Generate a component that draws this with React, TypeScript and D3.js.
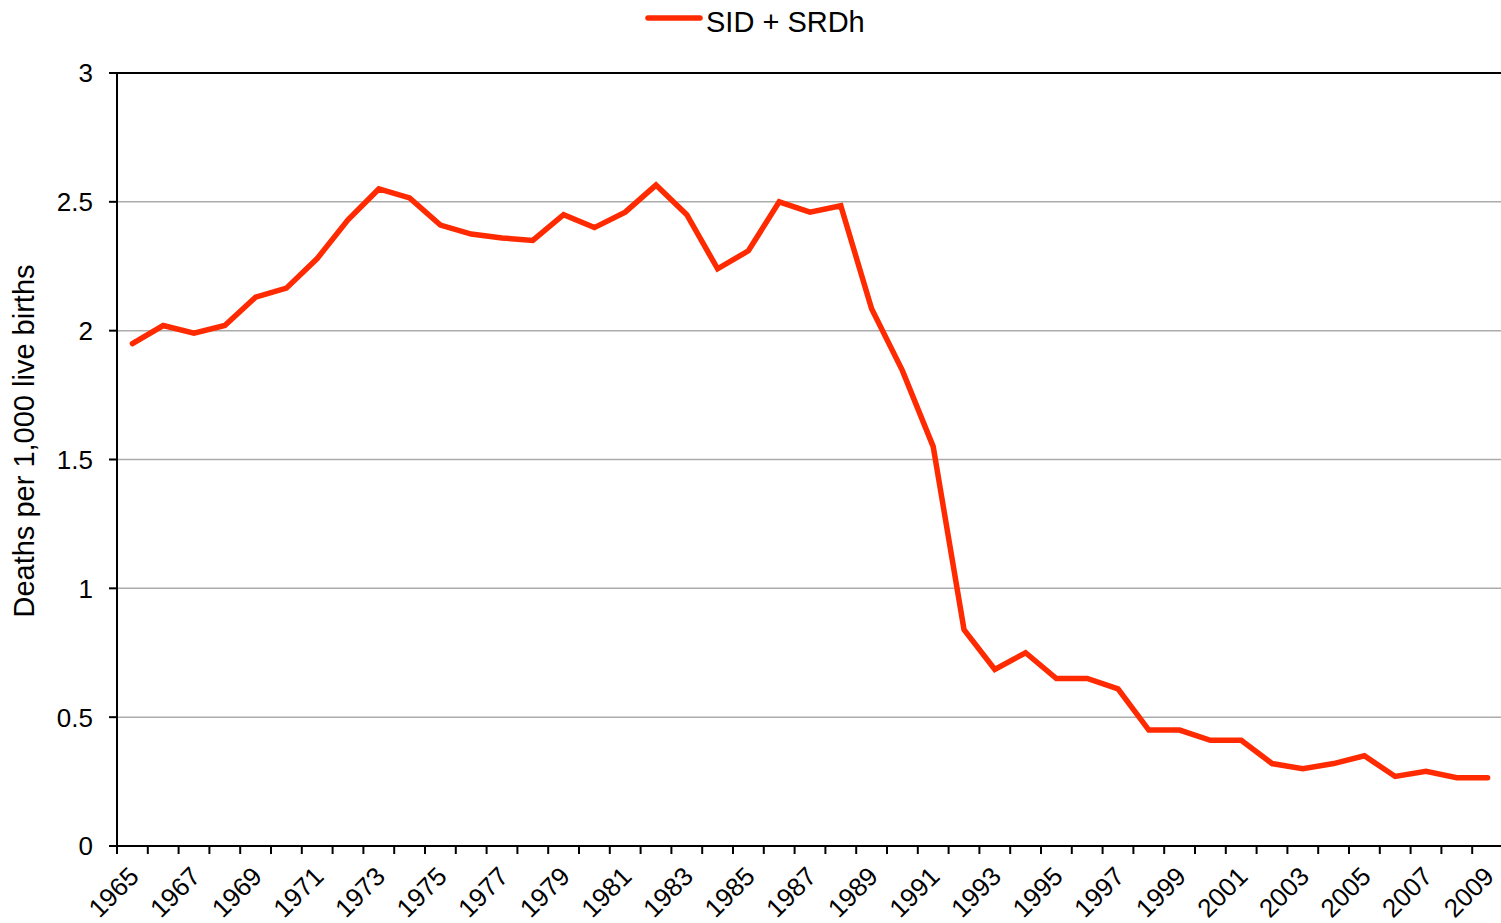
import React, { useEffect, useRef } from 'react';
import * as d3 from 'd3';

const years: number[] = [
  1965, 1966, 1967, 1968, 1969, 1970, 1971, 1972, 1973, 1974,
  1975, 1976, 1977, 1978, 1979, 1980, 1981, 1982, 1983, 1984,
  1985, 1986, 1987, 1988, 1989, 1990, 1991, 1992, 1993, 1994,
  1995, 1996, 1997, 1998, 1999, 2000, 2001, 2002, 2003, 2004,
  2005, 2006, 2007, 2008, 2009,
];

const deathRates: number[] = [
  1.95, 2.02, 1.99, 2.02, 2.13, 2.165, 2.28, 2.43, 2.55, 2.515,
  2.41, 2.375, 2.36, 2.35, 2.45, 2.4, 2.46, 2.565, 2.45, 2.24,
  2.31, 2.5, 2.46, 2.485, 2.085, 1.845, 1.55, 0.84, 0.685, 0.75,
  0.65, 0.65, 0.61, 0.45, 0.45, 0.41, 0.41, 0.32, 0.3, 0.32,
  0.35, 0.27, 0.29, 0.265, 0.265,
];

const yTicks: number[] = [0, 0.5, 1, 1.5, 2, 2.5, 3];
const seriesName = 'SID + SRDh';
const yTitle = 'Deaths per 1,000 live births';

function App() {
  const svgRef = useRef<SVGSVGElement>(null);

  useEffect(() => {
    const svg = d3.select(svgRef.current);
    svg.selectAll('*').remove();

    const width = 1501;
    const height = 923;
    const margin = { top: 73, right: -2, bottom: 77, left: 117 };
    const font = 'Liberation Sans, Arial, Helvetica, sans-serif';
    const red = '#ff2a00';

    const innerWidth = width - margin.left - margin.right;
    const innerHeight = height - margin.top - margin.bottom;

    const g = svg.append('g').attr('transform', `translate(${margin.left},${margin.top})`);

    const x = d3.scaleBand<number>().domain(years).range([0, innerWidth]).padding(0);
    const y = d3.scaleLinear().domain([0, 3]).range([innerHeight, 0]);
    const cx = (d: number) => (x(d) as number) + x.bandwidth() / 2;

    // grid lines
    g.selectAll('.grid')
      .data(yTicks.filter(t => t > 0 && t < 3))
      .enter()
      .append('line')
      .attr('x1', 0)
      .attr('x2', innerWidth)
      .attr('y1', d => y(d))
      .attr('y2', d => y(d))
      .attr('stroke', '#ababab')
      .attr('stroke-width', 1.5);

    // frame
    g.append('rect')
      .attr('x', 0)
      .attr('y', 0)
      .attr('width', innerWidth)
      .attr('height', innerHeight)
      .attr('fill', 'none')
      .attr('stroke', '#000')
      .attr('stroke-width', 2);

    // y ticks + labels
    g.selectAll('.ytick')
      .data(yTicks)
      .enter()
      .append('line')
      .attr('x1', -8)
      .attr('x2', 0)
      .attr('y1', d => y(d))
      .attr('y2', d => y(d))
      .attr('stroke', '#000')
      .attr('stroke-width', 2);

    g.selectAll('.ylabel')
      .data(yTicks)
      .enter()
      .append('text')
      .attr('x', -24)
      .attr('y', d => y(d))
      .attr('dy', '0.36em')
      .attr('text-anchor', 'end')
      .attr('font-family', font)
      .attr('font-size', 26)
      .text(d => String(d));

    // x ticks at band edges
    const edges = years.map(d => x(d) as number);
    g.selectAll('.xtick')
      .data(edges)
      .enter()
      .append('line')
      .attr('x1', d => d)
      .attr('x2', d => d)
      .attr('y1', innerHeight)
      .attr('y2', innerHeight + 8)
      .attr('stroke', '#000')
      .attr('stroke-width', 2);

    g.selectAll('.xlabel')
      .data(years.filter((d, i) => i % 2 === 0))
      .enter()
      .append('text')
      .attr('transform', d => `translate(${cx(d) + 8},${innerHeight + 32}) rotate(-45)`)
      .attr('text-anchor', 'end')
      .attr('font-family', font)
      .attr('font-size', 26)
      .text(d => String(d));

    // series line
    const line = d3.line<number>()
      .x((d, i) => cx(years[i]))
      .y(d => y(d));

    g.append('path')
      .datum(deathRates)
      .attr('d', line)
      .attr('fill', 'none')
      .attr('stroke', red)
      .attr('stroke-width', 5.5)
      .attr('stroke-linejoin', 'miter')
      .attr('stroke-linecap', 'round');

    // y title
    svg.append('text')
      .attr('transform', 'translate(34,441) rotate(-90)')
      .attr('text-anchor', 'middle')
      .attr('font-family', font)
      .attr('font-size', 29)
      .text(yTitle);

    // legend
    const lg = svg.append('g').attr('transform', 'translate(648,18)');
    lg.append('line')
      .attr('x1', 0)
      .attr('x2', 52)
      .attr('stroke', red)
      .attr('stroke-width', 5.5)
      .attr('stroke-linecap', 'round');
    lg.append('text')
      .attr('x', 58)
      .attr('y', 14)
      .attr('font-family', font)
      .attr('font-size', 29)
      .text(seriesName);
  }, []);

  return (
    <svg
      ref={svgRef}
      width={1501}
      height={923}
      style={{ position: 'absolute', left: 0, top: 0, background: '#fff' }}
    ></svg>
  );
}

export default App;
